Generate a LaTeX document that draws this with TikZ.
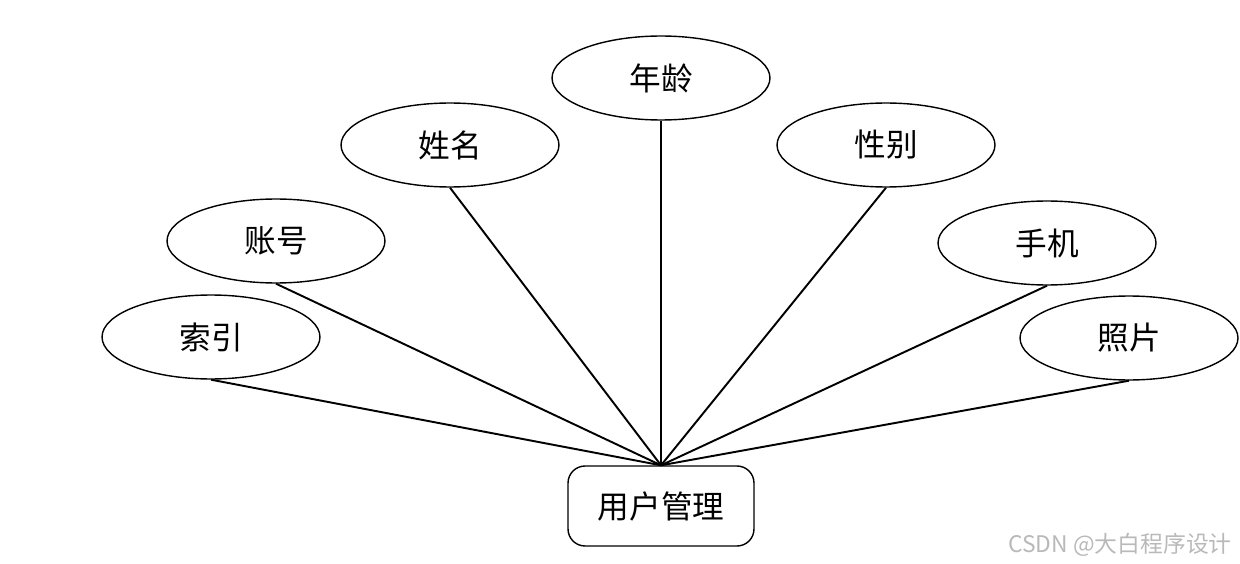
\documentclass[tikz,border=0pt]{standalone}
\usepackage{fontspec}
\setmainfont{Noto Sans CJK SC}
\newfontfamily\markfont{Noto Sans CJK SC}
\usetikzlibrary{shapes.geometric}
\tikzset{
  attr/.style={draw,ellipse,line width=0.8pt,minimum width=4.36cm,minimum height=1.68cm,
    inner sep=0pt,font=\fontsize{18}{20}\selectfont},
  entity/.style={draw,rectangle,rounded corners=0.34cm,line width=0.8pt,minimum width=3.72cm,
    minimum height=1.6cm,inner sep=0pt,font=\fontsize{18}{20}\selectfont},
  link/.style={line width=1.1pt}
}
\begin{document}
\begin{tikzpicture}[x=0.02cm,y=-0.02cm]
  \useasboundingbox (0,0) rectangle (1240,564);
  % entity
  \node[entity] (user) at (661,506) {用户管理};
  % attributes
  \node[attr] (index) at (211,337) {索引};
  \node[attr] (account) at (276,241) {账号};
  \node[attr] (name) at (450,145) {姓名};
  \node[attr] (age) at (661,78) {年龄};
  \node[attr] (gender) at (886,145) {性别};
  \node[attr] (phone) at (1047,243) {手机};
  \node[attr] (photo) at (1129,338) {照片};
  % links
  \foreach \a in {index,account,name,age,gender,phone,photo}
    \draw[link] (\a.south) -- (user.north);
  % watermark
  \node[text=gray!55,font=\markfont\fontsize{13}{15}\selectfont] (mark) at (1120,545) {CSDN @大白程序设计};
\end{tikzpicture}
\end{document}
